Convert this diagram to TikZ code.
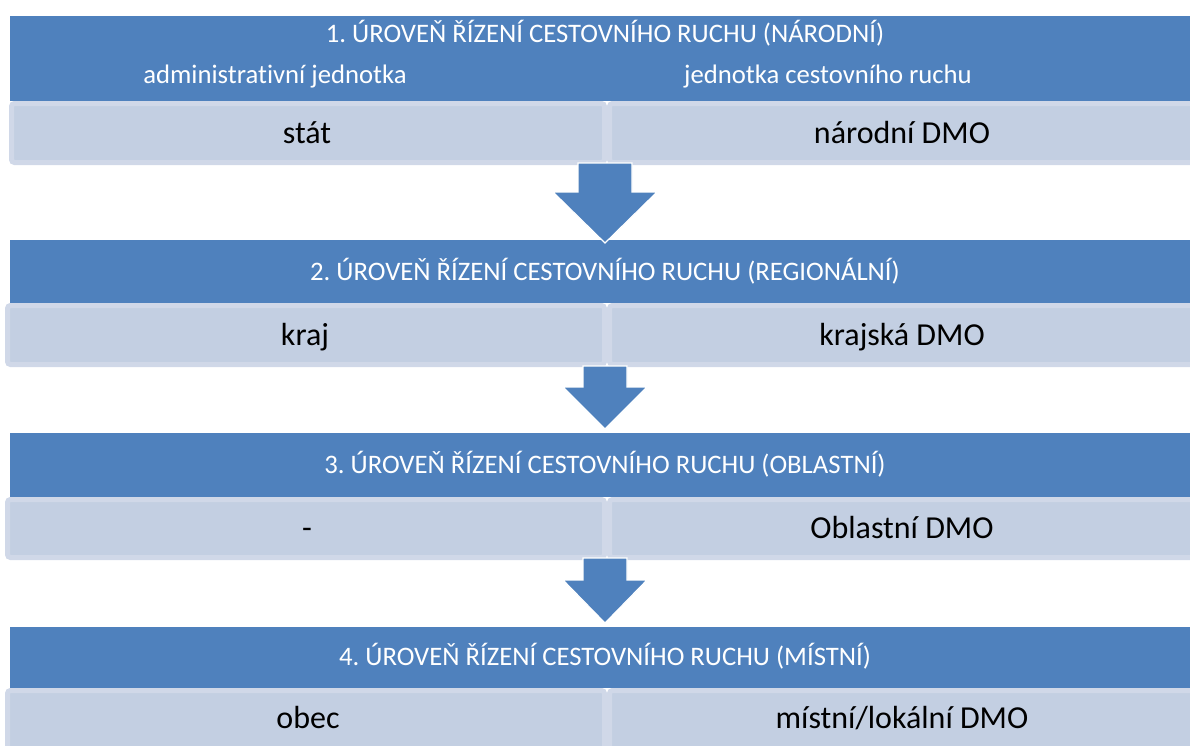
\documentclass[tikz,border=0pt]{standalone}
\usepackage{fontspec}
\setmainfont{Carlito}[Ligatures=NoCommon]
\frenchspacing
\definecolor{bandblue}{HTML}{4F81BD}
\definecolor{cellfill}{HTML}{C3CFE2}
\definecolor{celledge}{HTML}{D0D8E8}
\begin{document}
\begin{tikzpicture}[x=1pt,y=-1pt,
  band/.style={fill=bandblue},
  cell/.style={fill=cellfill, draw=celledge, line width=5pt, rounded corners=3pt},
  blockarrow/.style={fill=bandblue, draw=white, line width=1.2pt, line join=miter},
  title/.style={anchor=base, text=white, inner sep=0pt, font=\fontsize{26.7}{31}\selectfont},
  body/.style={anchor=base, text=black, inner sep=0pt, font=\fontsize{32}{38}\selectfont}]
\useasboundingbox (0,0) rectangle (1190,745);
\clip (0,0) rectangle (1190,745);

% level headers
\fill[band] (10,16)  rectangle (1196,101);
\fill[band] (10,240) rectangle (1196,303);
\fill[band] (10,433) rectangle (1196,497);
\fill[band] (10,627) rectangle (1196,688);

% cells of each level
\draw[cell] (11.5,103.5) rectangle (604.5,162.5);
\draw[cell] (609.5,103.5) rectangle (1200,162.5);
\draw[cell] (7.5,305.5) rectangle (604.5,364.5);
\draw[cell] (609.5,305.5) rectangle (1200,364.5);
\draw[cell] (7.5,499.5) rectangle (604.5,557.5);
\draw[cell] (609.5,499.5) rectangle (1200,557.5);
\draw[cell] (7.5,690.5) rectangle (604.5,760);
\draw[cell] (609.5,690.5) rectangle (1200,760);

% downward block arrows between levels
\draw[blockarrow] (578,163) -- (632,163) -- (632,192) -- (657,192) -- (605,243)
  -- (553,192) -- (578,192) -- cycle;
\draw[blockarrow] (583,366) -- (627,366) -- (627,387) -- (647,387) -- (605,429)
  -- (563,387) -- (583,387) -- cycle;
\draw[blockarrow] (583,558) -- (627,558) -- (627,580) -- (647,580) -- (605,623)
  -- (563,580) -- (583,580) -- cycle;

% texts
\node[title] (t1) at (605,42) {1. ÚROVEŇ ŘÍZENÍ CESTOVNÍHO RUCHU (NÁRODNÍ)};
\node[title] (s1a) at (275,83) {administrativní jednotka};
\node[title] (s1b) at (828,83) {jednotka cestovního ruchu};
\node[body] (a1) at (307,143) {stát};
\node[body] (b1) at (902,143) {národní DMO};

\node[title] (t2) at (605,280) {2. ÚROVEŇ ŘÍZENÍ CESTOVNÍHO RUCHU (REGIONÁLNÍ)};
\node[body] (a2) at (305,345) {kraj};
\node[body] (b2) at (902,345) {krajská DMO};

\node[title] (t3) at (605,473) {3. ÚROVEŇ ŘÍZENÍ CESTOVNÍHO RUCHU (OBLASTNÍ)};
\node[body] (a3) at (307,538) {-};
\node[body] (b3) at (902,538) {Oblastní DMO};

\node[title] (t4) at (605,665) {4. ÚROVEŇ ŘÍZENÍ CESTOVNÍHO RUCHU (MÍSTNÍ)};
\node[body] (a4) at (308,728) {obec};
\node[body] (b4) at (902,728) {místní/lokální DMO};
\end{tikzpicture}
\end{document}
